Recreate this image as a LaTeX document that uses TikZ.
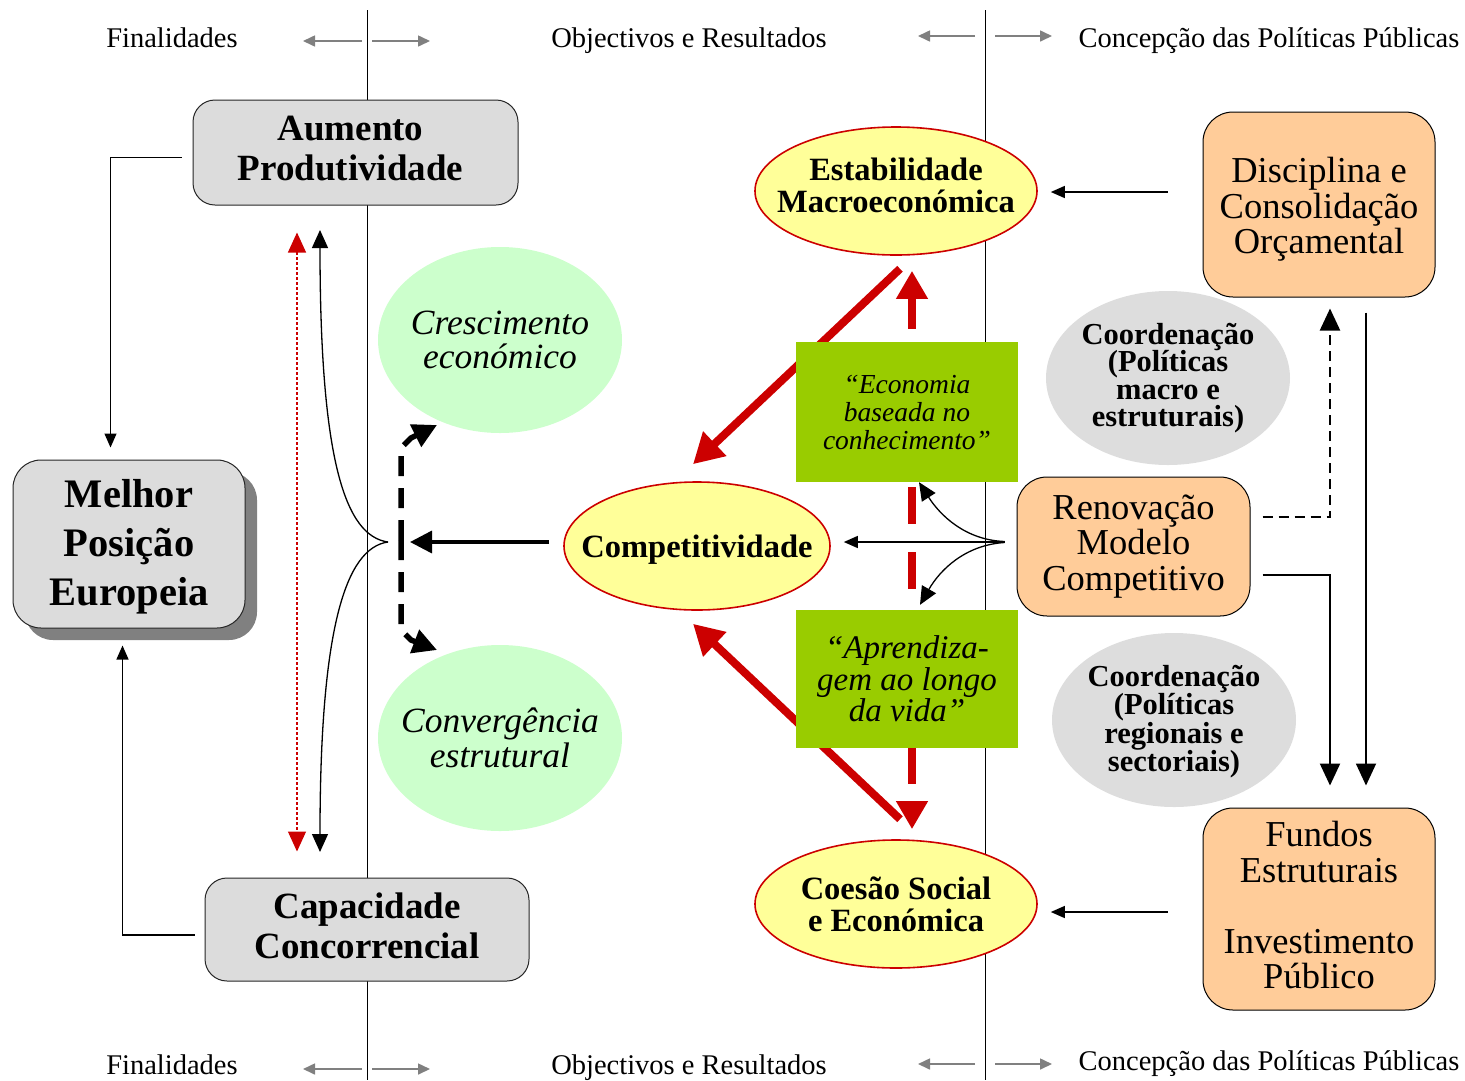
\documentclass[tikz,border=0pt]{standalone}
\usepackage{fontspec}
\setmainfont{Liberation Serif}
\usetikzlibrary{shapes.geometric,arrows.meta,shadows,calc}
\definecolor{boxgray}{HTML}{DCDCDC}
\definecolor{yel}{HTML}{FFFF99}
\definecolor{lgreen}{HTML}{CCFFCC}
\definecolor{kgreen}{HTML}{99CC00}
\definecolor{orng}{HTML}{FFCC99}
\definecolor{cgray}{HTML}{DDDDDD}
\definecolor{dred}{HTML}{CC0000}
\definecolor{hgray}{HTML}{808080}
\pgfdeclarelayer{back}
\pgfsetlayers{back,main}
\begin{document}
\begin{tikzpicture}[x=1pt,y=-1pt,
  every node/.style={inner sep=0pt, align=center},
  hdr/.style={font=\fontsize{28.5}{30}\selectfont},
  harrow/.style={draw=hgray, line width=1.6pt, -{Triangle[length=12pt,width=11pt]}},
  graybox/.style={draw=black!85, line width=1pt, fill=boxgray, rounded corners=22pt},
  gbtxt/.style={font=\bfseries\fontsize{37}{40}\selectfont, align=center},
  yell/.style={ellipse, draw=dred, line width=1.6pt, fill=yel},
  ytxt/.style={font=\bfseries\fontsize{32.5}{32}\selectfont, align=center},
  gell/.style={ellipse, fill=lgreen},
  gtxt/.style={font=\itshape\fontsize{35.5}{34.5}\selectfont, align=center},
  kbox/.style={rectangle, fill=kgreen},
  cell/.style={ellipse, fill=cgray},
  ctxt/.style={font=\bfseries\fontsize{30.5}{27.5}\selectfont, align=center},
  obox/.style={rectangle, rounded corners=30pt, draw=black, line width=1pt, fill=orng},
  otxt/.style={font=\fontsize{36.5}{35.5}\selectfont, align=center},
  blk/.style={draw=black, line width=1.3pt, -{Triangle[length=14pt,width=12pt]}},
  blkmid/.style={draw=black, line width=1.3pt, -{Triangle[length=18pt,width=16pt]}},
  blkbig/.style={draw=black, line width=2.2pt, -{Triangle[length=22pt,width=20pt]}},
  redarr/.style={draw=dred, line width=8pt, -{Triangle[length=30pt,width=32pt]}},
  dashblk/.style={draw=black, line width=5.5pt, dash pattern=on 20pt off 12pt, -{Triangle[length=24pt,width=24pt]}},
  vline/.style={draw=black, line width=1pt}
]
\useasboundingbox (0,0) rectangle (1465,1080);

% ---------- headers ----------
\node[hdr] (h1) at (172,38) {Finalidades};
\node[hdr] (h2) at (689,41) {Objectivos e Resultados};
\node[hdr] (h3) at (1269,41) {Concepção das Políticas Públicas};
\node[hdr] (f1) at (172,1065) {Finalidades};
\node[hdr] (f2) at (689,1068) {Objectivos e Resultados};
\node[hdr] (f3) at (1269,1064) {Concepção das Políticas Públicas};
\draw[harrow] (362,41) -- (303,41);
\draw[harrow] (372,41) -- (430,41);
\draw[harrow] (975,36) -- (918,36);
\draw[harrow] (995,36) -- (1052,36);
\draw[harrow] (362,1069) -- (303,1069);
\draw[harrow] (372,1069) -- (430,1069);
\draw[harrow] (975,1064) -- (918,1064);
\draw[harrow] (995,1064) -- (1052,1064);

% ---------- left boxes ----------
\node[graybox, minimum width=325pt, minimum height=105pt,
      label={[gbtxt, xshift=-5pt, yshift=4pt]center:{Aumento\\Produtividade}}] (aum) at (355.5,152.5) {};
\node[graybox, minimum width=324pt, minimum height=103pt,
      label={[gbtxt, yshift=4pt]center:{Capacidade\\Concorrencial}}] (cap) at (367,929.5) {};
\node[graybox, rounded corners=28pt,
      minimum width=232pt, minimum height=168pt,
      drop shadow={shadow xshift=12pt, shadow yshift=-12pt, fill=hgray, opacity=1},
      label={[font=\bfseries\fontsize{40.5}{49}\selectfont, align=center, yshift=-3pt]center:{Melhor\\Posição\\Europeia}}] (mel) at (129,544) {};

% ---------- green ellipses ----------
\node[gell, minimum width=244pt, minimum height=186pt, label={[gtxt]center:{Crescimento\\económico}}] (cre) at (500,340) {};
\node[gell, minimum width=244pt, minimum height=186pt, label={[gtxt]center:{Convergência\\estrutural}}] (conv) at (500,738) {};

% ---------- yellow ellipses ----------
\node[yell, minimum width=282pt, minimum height=128pt, label={[ytxt, yshift=6pt]center:{Estabilidade\\Macroeconómica}}] (est) at (896,191) {};
\node[yell, minimum width=266pt, minimum height=128pt, label={[ytxt, yshift=-4pt]center:{Competitividade}}] (comp) at (697,546) {};
\node[yell, minimum width=282pt, minimum height=128pt, label={[ytxt]center:{Coesão Social\\e Económica}}] (coe) at (896,904) {};

% ---------- green boxes ----------
\node[kbox, minimum width=222pt, minimum height=140pt, font=\itshape\fontsize{27.5}{28}\selectfont] (eco) at (907,412) {“Economia\\baseada no\\conhecimento”};
\node[kbox, minimum width=222pt, minimum height=138pt, font=\itshape\fontsize{33}{31.5}\selectfont] (apr) at (907,679) {“Aprendiza-\\gem ao longo\\da vida”};

% ---------- gray ellipses ----------
\node[cell, minimum width=244pt, minimum height=174pt, label={[ctxt]center:{Coordenação\\(Políticas\\macro e\\estruturais)}}] (co1) at (1168,378) {};
\node[cell, minimum width=244pt, minimum height=174pt, label={[ctxt, yshift=-2pt]center:{Coordenação\\(Políticas\\regionais e\\sectoriais)}}] (co2) at (1174,720) {};

% ---------- orange boxes ----------
\node[obox, minimum width=232pt, minimum height=185pt, label={[otxt, yshift=-5pt]center:{Disciplina e\\Consolidação\\Orçamental}}] (dis) at (1319,204.5) {};
\node[obox, minimum width=233pt, minimum height=139pt, label={[otxt]center:{Renovação\\Modelo\\Competitivo}}] (ren) at (1133.5,546.5) {};
\node[obox, minimum width=232pt, minimum height=202pt, label={[otxt, yshift=4pt]center:{Fundos\\Estruturais\\\mbox{}\\Investimento\\Público}}] (fun) at (1319,909) {};

% ---------- coordinates ----------
\coordinate (split) at (388,542);
\coordinate (upTip) at (320,230);
\coordinate (dnTip) at (320,852);
\coordinate (dmid) at (401,540);
\coordinate (creTip) at (437,425);
\coordinate (convTip) at (437,650);

% ---------- background layer ----------
\begin{pgfonlayer}{back}
  \draw[vline] (367,10) -- (367,1080);
  \draw[vline] (985,10) -- (985,1080);
  \draw[redarr] ($(est.south)+(4,13)$) -- ($(comp.north)+(-4,-17)$);
  \draw[redarr] ($(coe.north)+(4,-20)$) -- ($(comp.south)+(-4,13)$);
  \draw[draw=dred, line width=8pt, dash pattern=on 37pt off 28pt, dash phase=5pt,
        {Triangle[length=28pt,width=30pt]}-{Triangle[length=28pt,width=30pt]}]
        ($(est.south)+(16,15)$) -- ($(coe.north)+(16,-10)$);
\end{pgfonlayer}

% ---------- left connectors ----------
\draw[blk] ($(aum.west)+(-11,5)$) -| ($(mel.north west)+(98,-12)$);
\draw[blk] ($(cap.west)+(-10,5.5)$) -| ($(mel.south west)+(110,17)$);
\draw[draw=dred, line width=1.2pt, dash pattern=on 3pt off 2pt,
      {Triangle[length=20pt,width=18pt]}-{Triangle[length=20pt,width=18pt]}]
      ($(aum.south)+(-58.5,27)$) -- ($(cap.north)+(-70,-26)$);
\draw[blkmid] (split) .. controls (345,536) and (320,460) .. (upTip);
\draw[blkmid] (split) .. controls (345,548) and (320,630) .. (dnTip);
\draw[draw=black, line width=3.5pt, -{Triangle[length=22pt,width=22pt]}] ($(comp.west)+(-14,-4)$) -- (410,542);
\draw[dashblk] (dmid) -- (401,448) -- (411,438) -- (creTip);
\draw[dashblk] (dmid) -- (401,630) -- (411,640) -- (convTip);

% ---------- right connectors ----------
\draw[blk] ($(ren.west)+(-12,-4.5)$) -- ($(comp.east)+(13,-4)$);
\draw[blkmid] ($(ren.west)+(-12,-5)$) .. controls (965,540) and (940,515) .. ($(eco.south)+(12,0)$);
\draw[blkmid] ($(ren.west)+(-12,-4)$) .. controls (965,545) and (940,570) .. ($(apr.north)+(13,-5)$);
\draw[blkbig, dash pattern=on 10pt off 6pt] ($(ren.east)+(12,-29.5)$) -| ($(dis.south)+(11,11)$);
\draw[blkbig] ($(ren.east)+(12,28.5)$) -| ($(fun.north)+(11,-22)$);
\draw[blkbig, line width=1.8pt] ($(dis.south)+(47,15)$) -- ($(fun.north)+(47,-22)$);
\draw[blk] ($(dis.west)+(-35,-12.5)$) -- ($(est.east)+(13,1)$);
\draw[blk] ($(fun.west)+(-35,3)$) -- ($(coe.east)+(13,8)$);
\end{tikzpicture}
\end{document}
